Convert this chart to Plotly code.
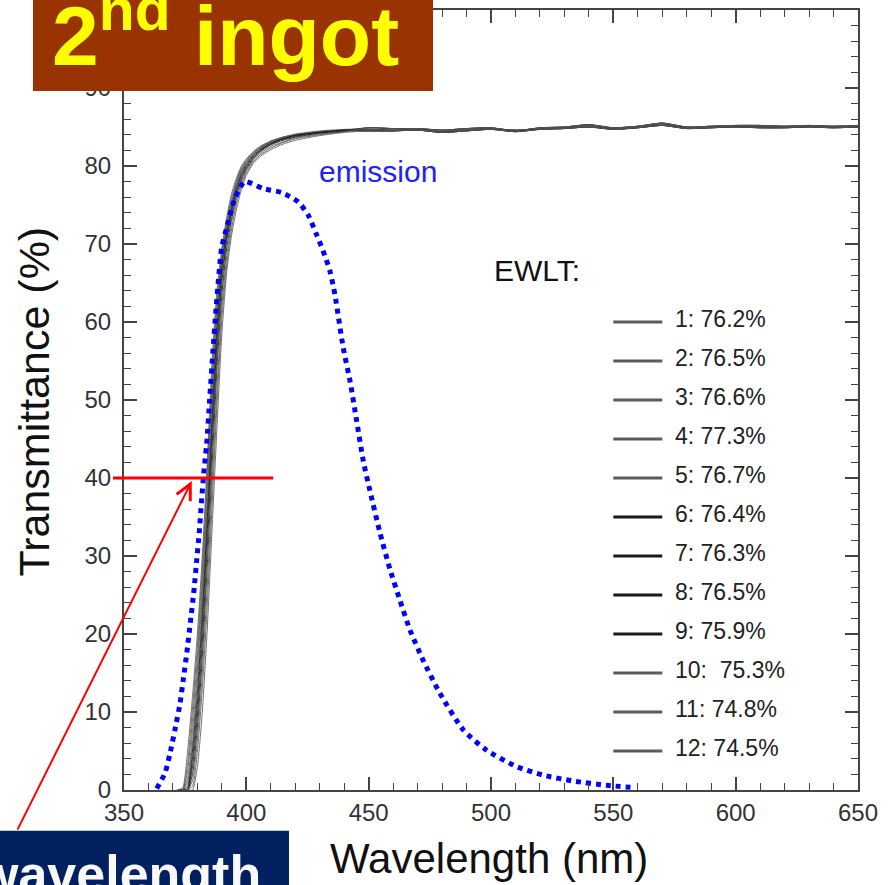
import plotly.graph_objects as go

# ---------------- data ----------------
X_RANGE = [350, 650]
Y_RANGE = [0, 100]

# wavelength grids (nm): absorption edge region and flat plateau region
wl_edge = [372, 374, 376, 378, 380, 382, 384, 386, 388, 390, 392, 394,
           396, 398, 400, 403, 406, 410, 415, 420, 430, 440]
wl_flat = [450, 460, 470, 480, 490, 500, 510, 520, 530, 540, 550,
           560, 570, 580, 590, 600, 610, 620, 630, 640, 650]

# transmittance (%) of each sample across the absorption edge
edge_s1 = [0, 0.3, 5, 12, 20, 30, 42, 55, 64, 69.5, 73.5, 76.5, 78.5, 80, 80.9, 81.9, 82.6, 83.2, 83.7, 84.0, 84.4, 84.6]
edge_s2 = [0, 0, 3.5, 10.5, 18.5, 28.5, 40.5, 53.5, 63, 69, 73, 76, 78.2, 79.8, 80.8, 81.8, 82.5, 83.2, 83.7, 84.0, 84.4, 84.6]
edge_s3 = [0, 0, 2.5, 9, 17, 27, 39, 52, 62, 68.5, 72.5, 75.5, 78, 79.6, 80.6, 81.7, 82.4, 83.1, 83.6, 84.0, 84.4, 84.6]
edge_s4 = [0, 0, 1.5, 7.5, 15.5, 25.5, 37.5, 50.5, 61, 68, 72.2, 75.3, 77.7, 79.4, 80.5, 81.6, 82.4, 83.1, 83.7, 84.1, 84.5, 84.7]
edge_s5 = [0, 0, 1, 6, 14, 24, 36, 49, 60, 67.5, 72, 75, 77.5, 79.3, 80.4, 81.5, 82.3, 83.0, 83.6, 84.0, 84.4, 84.6]
edge_s6 = [0, 0, 0.5, 5, 12.5, 22.5, 34.5, 47.5, 59, 67, 71.5, 74.7, 77.2, 79, 80.2, 81.4, 82.2, 82.9, 83.5, 83.9, 84.3, 84.5]
edge_s7 = [0, 0, 0.2, 4, 11, 21, 33, 46, 57.5, 66, 71, 74.3, 77, 78.8, 80.0, 81.3, 82.1, 82.9, 83.5, 83.9, 84.3, 84.6]
edge_s8 = [0, 0, 0, 3, 9.5, 19, 31, 44, 56, 65, 70.5, 74, 76.6, 78.5, 79.8, 81.1, 82.0, 82.8, 83.4, 83.8, 84.2, 84.5]
edge_s9 = [0, 0, 0, 2, 8, 17, 28.5, 41.5, 54, 63.5, 69.5, 73.3, 76.2, 78.2, 79.6, 81.0, 81.9, 82.7, 83.3, 83.7, 84.2, 84.5]
edge_s10 = [0, 0, 0, 1.2, 6.5, 15, 26, 39, 51.5, 62, 68.5, 72.8, 75.8, 77.9, 79.4, 80.8, 81.7, 82.5, 83.1, 83.6, 84.1, 84.4]
edge_s11 = [0, 0, 0, 0.5, 5, 13, 23.5, 36.5, 49.5, 60.5, 67.5, 72, 75.2, 77.5, 79.1, 80.6, 81.5, 82.3, 83.0, 83.5, 84.0, 84.4]
edge_s12 = [0, 0, 0, 0, 3, 10, 20.5, 33.5, 46.5, 58.5, 66.5, 71.2, 74.5, 77, 78.8, 80.4, 81.3, 82.1, 82.8, 83.3, 83.9, 84.3]

# plateau transmittance (%) — three groups of nearly coincident samples
flat_a = [84.7, 84.6, 84.7, 84.4, 84.7, 84.8, 84.6, 84.8, 84.9, 85.2, 84.8, 85.0, 85.4, 84.9, 85.0, 85.1, 85.1, 85.0, 85.1, 85.0, 85.1]
flat_b = [84.9, 84.8, 84.8, 84.6, 84.8, 84.9, 84.5, 84.9, 85.0, 85.3, 84.9, 85.1, 85.5, 85.0, 85.1, 85.2, 85.2, 85.1, 85.2, 85.1, 85.2]
flat_c = [84.5, 84.5, 84.6, 84.3, 84.5, 84.7, 84.4, 84.7, 84.8, 85.0, 84.7, 84.9, 85.2, 84.8, 84.9, 85.0, 84.9, 84.9, 85.0, 84.9, 85.0]

# EWLT key text
ewlt_labels = ["1: 76.2%", "2: 76.5%", "3: 76.6%", "4: 77.3%", "5: 76.7%", "6: 76.4%",
               "7: 76.3%", "8: 76.5%", "9: 75.9%", "10:\u00a0 75.3%", "11: 74.8%", "12: 74.5%"]
sample_colors = ["#5a5a5a", "#5a5a5a", "#5a5a5a", "#5a5a5a", "#5a5a5a", "#1a1a1a",
                 "#1a1a1a", "#1a1a1a", "#1a1a1a", "#5a5a5a", "#5a5a5a", "#5a5a5a"]

# scintillation emission spectrum (arbitrary scale)
em_wl = [363.4, 366.8, 368.8, 370.8, 372.9, 374.2, 375.8, 377.2, 378.6, 379.7, 380.8,
         381.7, 382.7, 383.8, 385.0, 386.3, 387.7, 389.9, 391.9, 395.4, 399.4, 406.9,
         414.4, 421.2, 425.3, 428.7, 431.4, 434.2, 436.2, 439.6, 442.4, 445.1, 447.8,
         450.5, 454.6, 458.7, 462.8, 466.9, 472.3, 479.1, 488.7, 498.2, 510.5, 521.4,
         533.6, 547.3, 558.8]
em_val = [0.2, 2.2, 4.7, 7.7, 11.1, 14.1, 17.9, 21.7, 25.6, 29.4, 33.2,
          37.1, 41.0, 44.4, 50.0, 56.0, 62.0, 69.5, 72.0, 75.9, 78.0, 77.1,
          76.6, 75.4, 73.7, 71.2, 69.1, 66.5, 63.5, 56.7, 52.4, 47.3, 42.2,
          38.4, 33.0, 28.3, 24.3, 20.5, 16.6, 12.4, 7.7, 5.1, 3.0,
          1.9, 1.15, 0.6, 0.3]

# cut-off marker: transmittance level and arrow target
cut_level = 40
cut_line_nm = [345.5, 411]
cut_arrow_nm = 377.7

# ---------------- figure ----------------
FONT = "Liberation Sans, Arial, Helvetica, sans-serif"

edges = [edge_s1, edge_s2, edge_s3, edge_s4, edge_s5, edge_s6,
         edge_s7, edge_s8, edge_s9, edge_s10, edge_s11, edge_s12]
flats = [flat_a, flat_b, flat_c]

fig = go.Figure()

for i, edge in enumerate(edges):
    fig.add_trace(go.Scatter(
        x=wl_edge + wl_flat,
        y=edge + flats[i % 3],
        mode="lines",
        line=dict(color=sample_colors[i], width=1.0, shape="spline", smoothing=0.6),
        opacity=0.85,
        name=ewlt_labels[i],
        showlegend=False,
    ))

fig.add_trace(go.Scatter(
    x=em_wl, y=em_val, mode="lines",
    line=dict(color="#0000ff", width=5, dash="dot", shape="spline", smoothing=0.6),
    name="emission", showlegend=False,
))


def px(v):
    return (v - X_RANGE[0]) / (X_RANGE[1] - X_RANGE[0])


shapes = [
    # title box
    dict(type="rect", xref="paper", yref="paper", x0=-0.124, x1=0.421, y0=0.896, y1=1.03,
         fillcolor="#993300", line=dict(width=0), layer="above"),
    # bottom-left caption box
    dict(type="rect", xref="paper", yref="paper", x0=-0.2, x1=0.2248, y0=-0.15, y1=-0.0524,
         fillcolor="#002060", line=dict(width=0), layer="above"),
    # cut-off level
    dict(type="line", xref="paper", yref="y", x0=px(cut_line_nm[0]), x1=px(cut_line_nm[1]),
         y0=cut_level, y1=cut_level, line=dict(color="#ff0000", width=3), layer="above"),
]

annotations = [
    dict(text="<b>2<sup>nd</sup> ingot</b>", xref="paper", yref="paper", x=-0.101, y=0.974,
         xanchor="left", yanchor="middle", showarrow=False,
         font=dict(family=FONT, size=84, color="#ffff00")),
    dict(text="<b>wavelength</b>", xref="paper", yref="paper", x=0.19, y=-0.108,
         xanchor="right", yanchor="middle", showarrow=False,
         font=dict(family=FONT, size=52, color="#f8f8f8")),
    dict(text="", xref="x", yref="y", x=cut_arrow_nm, y=39.6, ax=-175, ay=350,
         showarrow=True, arrowhead=5, arrowsize=1.5, arrowwidth=2, arrowcolor="#ff0000",
         standoff=0),
    dict(text="Wavelength (nm)", xref="paper", yref="paper", x=0.497, y=-0.088,
         xanchor="center", yanchor="middle", showarrow=False,
         font=dict(family=FONT, size=42, color="#111111")),
    dict(text="Transmittance (%)", xref="paper", yref="paper", x=-0.122, y=0.4987,
         xanchor="center", yanchor="middle", textangle=-90, showarrow=False,
         font=dict(family=FONT, size=43, color="#111111")),
    dict(text="emission", xref="x", yref="y", x=428.9, y=79.3, xanchor="left",
         yanchor="middle", showarrow=False, font=dict(family=FONT, size=30, color="#2020ff")),
    dict(text="EWLT:", xref="x", yref="y", x=500.4, y=66.6, xanchor="left",
         yanchor="middle", showarrow=False, font=dict(family=FONT, size=30, color="#111111")),
]

# EWLT key: short line sample plus label for each sample
for i, label in enumerate(ewlt_labels):
    level = 60 - 5 * i
    shapes.append(dict(type="line", xref="x", yref="y", x0=550, x1=570, y0=level, y1=level,
                       line=dict(color=sample_colors[i], width=3)))
    annotations.append(dict(text=label, xref="x", yref="y", x=574.5, y=level + 0.4,
                            xanchor="left", yanchor="middle", showarrow=False,
                            font=dict(family=FONT, size=23, color="#222222")))

axis_common = dict(
    showline=True, linecolor="#444444", linewidth=2, mirror="ticks",
    ticks="inside", ticklen=13, tickwidth=1.5, tickcolor="#444444",
    showgrid=False, zeroline=False,
    tickfont=dict(family=FONT, size=24, color="#333333"),
)

fig.update_layout(
    width=891, height=885,
    margin=dict(l=124, r=33, t=8, b=95),
    paper_bgcolor="white", plot_bgcolor="white",
    xaxis=dict(range=X_RANGE, dtick=50, tick0=350, ticklabelstandoff=0,
               minor=dict(dtick=10, ticks="inside", ticklen=7, tickwidth=1.3, tickcolor="#444444"),
               **axis_common),
    yaxis=dict(range=Y_RANGE, dtick=10, tick0=0, ticklabelstandoff=6,
               minor=dict(dtick=2, ticks="inside", ticklen=7, tickwidth=1.3, tickcolor="#444444"),
               **axis_common),
    shapes=shapes,
    annotations=annotations,
    showlegend=False,
)

fig.write_html("out.html")
